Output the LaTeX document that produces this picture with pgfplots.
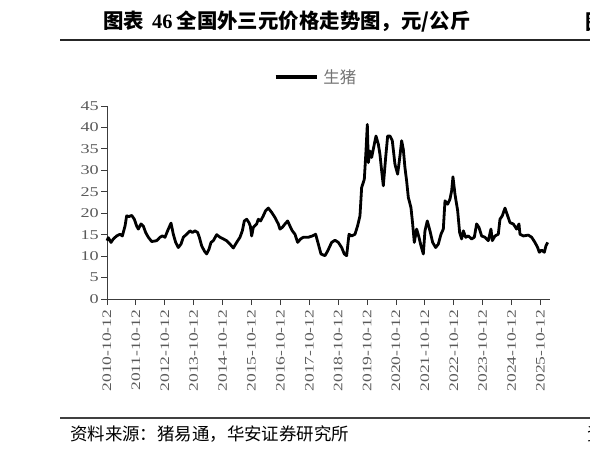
\documentclass[border=0pt]{standalone}
\usepackage{graphicx}
\usepackage{pgfplots}
\pgfplotsset{compat=1.18}
\usepackage{pgfplotstable}
\usepackage{fontspec}
\setmainfont{Liberation Serif}
\newfontfamily\cjk{Noto Sans CJK SC}
\definecolor{tickgray}{RGB}{90,90,90}
\definecolor{leggray}{RGB}{115,115,115}
\definecolor{axisgray}{RGB}{60,60,60}
\newcommand{\wide}[1]{\scalebox{1.35}[1]{#1}}

\pgfplotstableread{
x y
0.000 13.6
0.046 14.3
0.138 13.2
0.219 14.0
0.334 14.7
0.450 15.1
0.531 14.7
0.623 17.0
0.681 19.4
0.761 19.2
0.854 19.5
0.946 18.6
1.027 17.0
1.084 16.3
1.176 17.5
1.257 17.0
1.338 15.5
1.430 14.4
1.546 13.4
1.719 13.6
1.834 14.4
1.915 14.7
2.007 14.4
2.122 16.3
2.215 17.7
2.295 15.1
2.376 13.2
2.468 12.0
2.561 12.8
2.641 14.4
2.757 15.1
2.872 15.9
2.953 15.5
3.045 15.9
3.137 15.5
3.195 14.4
3.276 12.4
3.368 11.2
3.449 10.5
3.529 11.6
3.599 13.2
3.679 13.6
3.795 15.0
3.910 14.4
4.025 14.0
4.141 13.6
4.256 12.8
4.371 11.9
4.487 13.2
4.602 14.4
4.683 15.9
4.752 18.2
4.833 18.6
4.913 17.8
4.960 17.0
5.006 14.7
5.063 16.7
5.179 17.5
5.236 18.6
5.317 18.2
5.409 19.4
5.490 20.6
5.582 21.2
5.698 20.2
5.813 19.0
5.928 17.5
5.986 16.3
6.067 16.7
6.159 17.5
6.251 18.2
6.332 17.0
6.413 15.9
6.505 15.1
6.597 13.2
6.700 14.0
6.794 14.4
6.967 14.4
7.105 14.7
7.220 15.1
7.313 12.8
7.405 10.5
7.543 10.1
7.636 11.2
7.774 13.2
7.889 13.7
8.005 13.2
8.120 12.0
8.212 10.5
8.293 10.1
8.374 15.1
8.466 14.7
8.581 15.1
8.674 17.1
8.754 19.4
8.812 26.0
8.904 27.9
8.962 34.5
9.008 40.7
9.043 31.8
9.100 34.5
9.158 33.0
9.250 36.1
9.308 38.0
9.389 36.1
9.446 33.7
9.504 29.9
9.562 26.4
9.643 33.0
9.712 38.0
9.792 38.0
9.873 36.9
9.965 31.4
10.058 29.1
10.138 33.4
10.196 36.9
10.254 34.9
10.311 30.6
10.369 27.5
10.427 23.7
10.519 21.3
10.577 17.5
10.634 13.2
10.715 16.3
10.796 14.4
10.865 12.4
10.946 10.5
11.003 15.9
11.084 18.2
11.176 15.9
11.269 13.2
11.373 12.0
11.465 12.8
11.557 15.1
11.638 16.3
11.696 22.9
11.788 22.1
11.869 23.3
11.926 25.2
11.972 28.5
12.042 24.4
12.134 20.6
12.203 15.5
12.272 14.0
12.330 15.9
12.411 14.4
12.503 14.7
12.618 14.0
12.711 14.4
12.791 17.5
12.872 16.7
12.964 14.7
13.080 14.4
13.195 13.6
13.287 16.3
13.333 13.6
13.426 14.7
13.541 15.1
13.599 18.6
13.679 19.4
13.772 21.2
13.864 19.4
13.945 17.8
14.060 17.5
14.175 16.3
14.256 17.5
14.291 15.1
14.406 14.7
14.579 14.9
14.694 14.4
14.810 13.2
14.902 12.0
14.960 10.9
15.040 11.4
15.133 10.9
15.190 12.4
15.248 13.2
}\pigdata

\begin{document}
\begin{tikzpicture}
\useasboundingbox (0bp,0bp) rectangle (590bp,-451bp);
% title
\node[anchor=west, inner sep=0] at (103bp,-22bp) {\fontsize{20.5}{23}\selectfont\cjk\bfseries 图表\hspace{0.4em}{\rmfamily\bfseries 46}\hspace{0.2em}全国外三元价格走势图，元/公斤};
\node[anchor=west, inner sep=0] at (585bp,-22bp) {\fontsize{20.5}{23}\selectfont\cjk\bfseries 图};
\draw[line width=1.1bp, black!85] (60bp,-40bp) -- (600bp,-40bp);
% footer
\draw[line width=1.1bp, black!75] (60bp,-418bp) -- (600bp,-418bp);
\node[anchor=west, inner sep=0] at (70bp,-434bp) {\fontsize{17.5}{20}\selectfont\cjk 资料来源：猪易通，华安证券研究所};
\node[anchor=west, inner sep=0] at (587bp,-434bp) {\fontsize{17.5}{20}\selectfont\cjk 资};

\begin{axis}[
  at={(107bp,-299bp)}, anchor=south west,
  scale only axis, width=443bp, height=193bp,
  xmin=0, xmax=15.33, ymin=0, ymax=45,
  axis x line*=bottom, axis y line*=left,
  axis line style={-, draw=axisgray, line width=0.9bp},
  tick align=outside, major tick length=6bp,
  tick style={draw=axisgray, line width=0.9bp},
  xtick={0,...,15},
  xticklabels={\wide{2010-10-12},\wide{2011-10-12},\wide{2012-10-12},\wide{2013-10-12},\wide{2014-10-12},\wide{2015-10-12},\wide{2016-10-12},\wide{2017-10-12},\wide{2018-10-12},\wide{2019-10-12},\wide{2020-10-12},\wide{2021-10-12},\wide{2022-10-12},\wide{2023-10-12},\wide{2024-10-12},\wide{2025-10-12}},
  xticklabel style={rotate=90, anchor=east, font=\fontsize{13}{15}\selectfont, text=tickgray, inner sep=4.5bp},
  ytick={0,5,...,45},
  /pgf/number format/assume math mode=true,
  yticklabel={\wide{\pgfmathprintnumber{\tick}}},
  yticklabel style={font=\fontsize{13.5}{15}\selectfont, text=tickgray, inner sep=2bp},
  legend style={draw=none, fill=none, at={(axis description cs:0.472,1.15)}, anchor=center, font=\fontsize{16.5}{18}\selectfont\cjk\color{leggray}},
  legend image code/.code={\draw[black, line width=3.6bp] (0bp,0bp) -- (41bp,0bp);},
  clip=false,
]
\addplot[black, line width=2.8bp, line join=round] table[x=x, y=y] {\pigdata};
\addlegendentry{\hspace{3bp}生猪}
\end{axis}
\end{tikzpicture}
\end{document}
